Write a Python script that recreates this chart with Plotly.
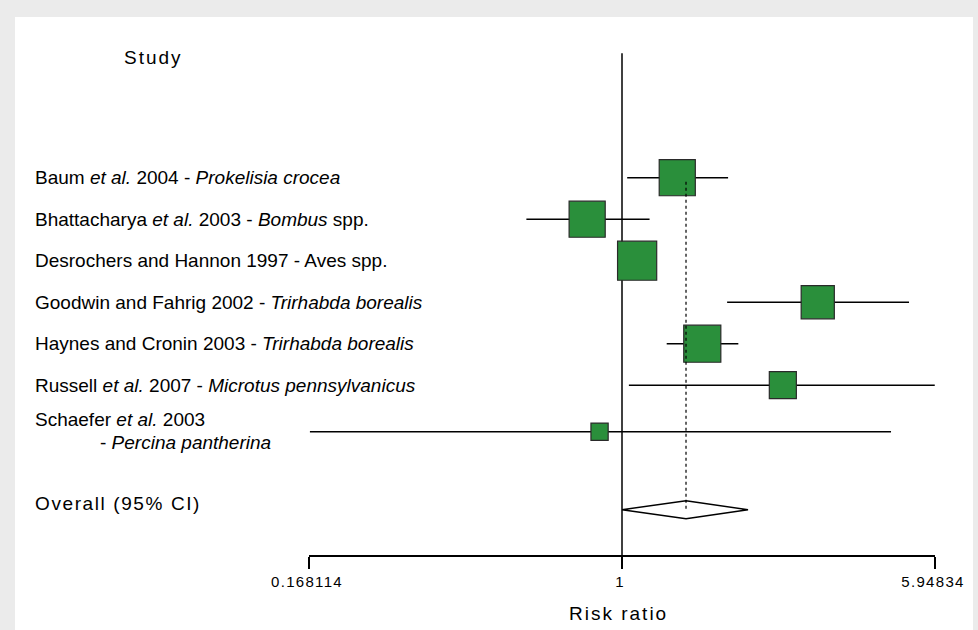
import math
import plotly.graph_objects as go

# ---------------- data ----------------
study_author = ["Baum <i>et al.</i> 2004 - <i>Prokelisia crocea</i>",
                "Bhattacharya <i>et al.</i> 2003 - <i>Bombus</i> spp.",
                "Desrochers and Hannon 1997 - Aves spp.",
                "Goodwin and Fahrig 2002 - <i>Trirhabda borealis</i>",
                "Haynes and Cronin 2003 - <i>Trirhabda borealis</i>",
                "Russell <i>et al.</i> 2007 - <i>Microtus pennsylvanicus</i>",
                "Schaefer <i>et al.</i> 2003"]
study_label_line2 = ["", "", "", "", "", "", "- <i>Percina pantherina</i>"]
risk_ratio = [1.37, 0.82, 1.09, 3.05, 1.58, 2.50, 0.88]
ci_low = [1.03, 0.58, 1.04, 1.82, 1.29, 1.04, 0.169]
ci_high = [1.83, 1.17, 1.14, 5.13, 1.94, 5.94, 4.63]
weight_pct = [17.0, 17.0, 19.9, 14.4, 17.9, 9.7, 4.1]

overall_label = "Overall (95% CI)"
overall_rr = 1.44
overall_low = 1.00
overall_high = 2.05

tick_values = [0.168114, 1, 5.94834]
tick_labels = ["0.168114", "1", "5.94834"]
x_title = "Risk ratio"
header = "Study"

# ---------------- layout constants ----------------
W, H = 978, 630
L, R, T, B = 309, 43, 17, 75
PW, PH = W - L - R, H - T - B
row_y = [0, 1, 2, 3, 4, 5, 6.12]
overall_y = 8
row_px = 41.5              # pixels per row unit
top_px = 177.7             # pixel y of first row
y_top = (T - top_px) / row_px
y_bot = (T + PH - top_px) / row_px

def px_x(px):
    return (px - L) / PW

def px_y(py):
    return (T + PH - py) / PH

green = "#2a8f3b"

fig = go.Figure()

# null line at 1
fig.add_trace(go.Scatter(x=[1, 1], y=[-3.0, y_bot], mode="lines",
                         line=dict(color="black", width=1.5),
                         hoverinfo="skip", showlegend=False))

# CI lines
cx, cy = [], []
for lo, hi, yy in zip(ci_low, ci_high, row_y):
    cx += [lo, hi, None]
    cy += [yy, yy, None]
fig.add_trace(go.Scatter(x=cx, y=cy, mode="lines",
                         line=dict(color="black", width=1.5),
                         hoverinfo="skip", showlegend=False))

# boxes
sizes = [9.0 * math.sqrt(w) - 1 for w in weight_pct]
fig.add_trace(go.Scatter(x=risk_ratio, y=row_y, mode="markers",
                         marker=dict(symbol="square", size=sizes, color=green, opacity=1,
                                     line=dict(color="#2a2a2a", width=1.2)),
                         hoverinfo="skip", showlegend=False))

# dotted line at overall estimate
fig.add_trace(go.Scatter(x=[overall_rr, overall_rr], y=[row_y[0] + 0.1, overall_y],
                         mode="lines",
                         line=dict(color="black", width=1.2, dash="dot"),
                         hoverinfo="skip", showlegend=False))

# diamond
dh = 9 / row_px
fig.add_trace(go.Scatter(x=[overall_low, overall_rr, overall_high, overall_rr, overall_low],
                         y=[overall_y, overall_y - dh, overall_y, overall_y + dh, overall_y],
                         mode="lines", line=dict(color="black", width=1.5),
                         hoverinfo="skip", showlegend=False))

fnt = dict(family="Liberation Sans, Arial, sans-serif", size=19, color="black")
LX = 33

annotations = [
    dict(text=header, xref="paper", yref="paper", x=px_x(122), y=px_y(57),
         xanchor="left", yanchor="middle", align="left", showarrow=False, font=fnt),
    dict(text=overall_label, xref="paper", yref="y", x=px_x(LX), y=overall_y,
         yshift=6, xanchor="left", yanchor="middle", align="left", showarrow=False, font=fnt),
    dict(text=x_title, xref="paper", yref="paper", x=px_x(567), y=px_y(613),
         xanchor="left", yanchor="middle", align="left", showarrow=False, font=fnt),
]
for lab, lab2, yy in zip(study_author, study_label_line2, row_y):
    if lab2:
        annotations.append(dict(text=lab, xref="paper", yref="y", x=px_x(LX), y=yy,
                                yshift=12, xanchor="left", yanchor="middle", align="left",
                                showarrow=False, font=fnt))
        annotations.append(dict(text=lab2, xref="paper", yref="y", x=px_x(98), y=yy,
                                yshift=-11, xanchor="left", yanchor="middle", align="left",
                                showarrow=False, font=fnt))
    else:
        annotations.append(dict(text=lab, xref="paper", yref="y", x=px_x(LX), y=yy,
                                xanchor="left", yanchor="middle", align="left",
                                showarrow=False, font=fnt))

fig.update_layout(
    width=W, height=H,
    margin=dict(l=L, r=R, t=T, b=B),
    paper_bgcolor="#ebebeb",
    plot_bgcolor="rgba(0,0,0,0)",
    showlegend=False,
    annotations=annotations,
    shapes=[dict(type="rect", xref="paper", yref="paper",
                 x0=px_x(15), x1=px_x(973), y0=px_y(630), y1=px_y(17),
                 fillcolor="white", line=dict(width=0), layer="below")],
    xaxis=dict(type="log",
               range=[math.log10(tick_values[0]), math.log10(tick_values[-1])],
               tickvals=tick_values, ticktext=tick_labels,
               showline=True, linecolor="black", linewidth=1.5,
               ticks="outside", ticklen=12, tickwidth=1.5, tickcolor="black",
               showgrid=False, zeroline=False, ticklabelshift=-2,
               tickfont=dict(family="Liberation Sans, Arial, sans-serif", size=15, color="black")),
    yaxis=dict(range=[y_bot, y_top], visible=False, showgrid=False, zeroline=False),
)

post = """
document.body.style.margin = '0';
document.body.style.padding = '0';
document.documentElement.style.overflow = 'hidden';
var gd = document.getElementById('{plot_id}');
function sp(){
  gd.querySelectorAll('g.annotation[data-index="0"] text, g.annotation[data-index="2"] text')
    .forEach(function(t){ t.style.letterSpacing = '2px'; });
  gd.querySelectorAll('g.annotation[data-index="1"] text')
    .forEach(function(t){ t.style.letterSpacing = '1.6px'; });
  gd.querySelectorAll('.xtick text').forEach(function(t){ t.style.letterSpacing = '1.3px'; });
}
sp();
gd.on('plotly_afterplot', sp);
"""

fig.write_html("out.html", post_script=post, config={"displayModeBar": False})
